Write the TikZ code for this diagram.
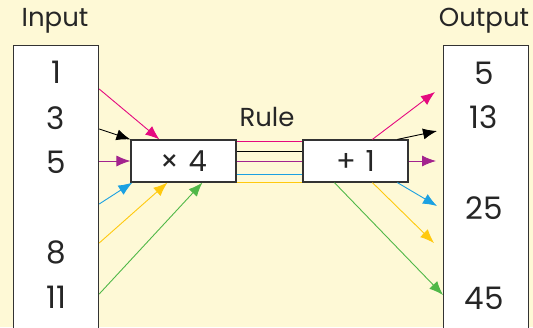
\documentclass[tikz,border=0pt]{standalone}
\usepackage{fontspec}
\setmainfont{Poppins}
\usetikzlibrary{arrows.meta, positioning}
\definecolor{bgyellow}{HTML}{FEF9D6}
\definecolor{rpink}{HTML}{E5097F}
\definecolor{rpurple}{HTML}{A3238E}
\definecolor{rcyan}{HTML}{1BA1E2}
\definecolor{ryellow}{HTML}{FFC90E}
\definecolor{rgreen}{HTML}{50B848}
\definecolor{edge}{HTML}{333333}
\tikzset{
  col/.style={draw=edge, line width=1.2pt, fill=white, minimum width=85pt, minimum height=300pt, anchor=north west},
  box/.style={draw=edge, line width=1.2pt, fill=white, minimum width=105pt, minimum height=42pt, font=\fontsize{29}{32}\selectfont, text=black!85},
  num/.style={font=\fontsize{31}{34}\selectfont, text=black!85},
  head/.style={font=\fontsize{26}{30}\selectfont, text=black!85},
  arr/.style={-{Latex[length=14pt, width=11pt]}, line width=0.9pt},
  wire/.style={line width=1pt},
}

\begin{document}
\begin{tikzpicture}[x=1pt, y=-1pt]
    \clip (0,0) rectangle (533,327);
    \fill[bgyellow] (0,0) rectangle (533,327);
    % columns
    \node[col] (inbox) at (13,45) {};
    \node[col] (outbox) at (443,45) {};
    \node[head] (inlbl) at (55,21) {Input};
    \node[head] (outlbl) at (484,21) {Output};
    \foreach \n/\y in {1/72, 3/118, 5/162, 8/252, 11/297} {
      \node[num] (in\n) at (56,\y) {\n};
    }
    \foreach \n/\y in {5/73, 13/117, 25/208, 45/298} {
      \node[num] (out\n) at (484,\y) {\n};
    }
    % rule
    \node[head] (rule) at (267,117) {Rule};
    \node[box] (times) at (183.5,161) {×\,\,4};
    \node[box] (plus) at (355.5,161) {+\,\,1};
    \foreach \c/\y in {rpink/141, black/151, rpurple/161, rcyan/174, ryellow/182.5} {
      \draw[wire, \c] (times.east |- 0,\y) -- (plus.west |- 0,\y);
    }
    % into x4
    \draw[arr, rpink] (inbox.east |- 0,89) -- ([xshift=29pt]times.north west);
    \draw[arr, black] (inbox.east |- 0,129) -- (times.north west);
    \draw[arr, rpurple] (inbox.east |- 0,161) -- (times.west);
    \draw[arr, rcyan] (inbox.east |- 0,204) -- ([xshift=2pt]times.south west);
    \draw[arr, ryellow] (inbox.east |- 0,243) -- ([xshift=37pt]times.south west);
    \draw[arr, rgreen] (inbox.east |- 0,294) -- ([xshift=72pt]times.south west);
    % out of +1
    \draw[arr, rpink] ([xshift=70pt]plus.north west) -- ([xshift=-8pt]outbox.west |- 0,92);
    \draw[arr, black] ([xshift=95pt]plus.north west) -- ([xshift=-6pt]outbox.west |- 0,131);
    \draw[arr, rpurple] (plus.east) -- ([xshift=-7pt]outbox.west |- 0,161);
    \draw[arr, rcyan] ([xshift=95pt]plus.south west) -- ([xshift=-6pt]outbox.west |- 0,206);
    \draw[arr, ryellow] ([xshift=70pt]plus.south west) -- ([xshift=-9pt]outbox.west |- 0,243);
    \draw[arr, rgreen] ([xshift=32pt]plus.south west) -- (outbox.west |- 0,295);
  \end{tikzpicture}
\end{document}
